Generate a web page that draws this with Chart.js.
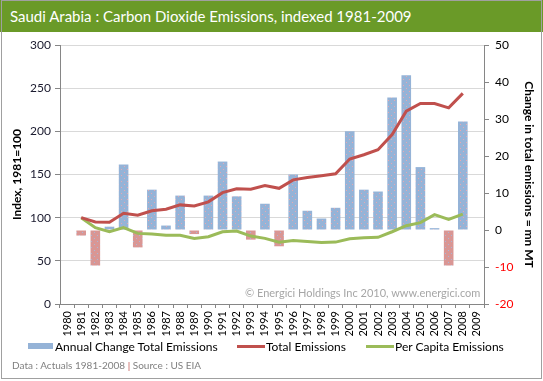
<!DOCTYPE html>
<html lang="en">
<head>
  <meta charset="UTF-8" />
  <title>Saudi Arabia : Carbon Dioxide Emissions</title>
  <script src="https://cdn.jsdelivr.net/npm/chart.js"></script>
  <style>
    html, body { margin: 0; padding: 0; background: #fff; }
    body { width: 543px; height: 381px; position: relative; overflow: hidden; font-family: Lato, sans-serif; }
    #frame { position: absolute; left: 1px; top: 0; width: 539px; height: 377px; border: 1px solid #a0a0a0; }
    #titlebar { position: absolute; left: 0; top: 0; width: 543px; height: 32px; background: #6a9a28; color: #fff; font-size: 15px; line-height: 32px; padding-left: 10px; box-sizing: border-box; }
    #wrap { position: absolute; left: 0; top: 0; width: 543px; height: 381px; }
    #mark { position: absolute; left: 245px; top: 286px; font-size: 11px; color: #a6a6a6; }
    #legend { position: absolute; top: 339px; left: 0; font-size: 12px; color: #000; }
    .item { position: absolute; white-space: nowrap; }
    .sw { position: absolute; }
    #footer { position: absolute; left: 12px; top: 359px; font-size: 10px; color: #808080; }
    #footer span { color: #c0504d; }
  </style>
</head>
<body>
  <div id="wrap"><canvas id="grafico" width="543" height="381"></canvas></div>
  <div id="titlebar">Saudi Arabia : Carbon Dioxide Emissions, indexed 1981-2009</div>
  <div id="mark">© Energici Holdings Inc 2010, www.energici.com</div>
  <div id="legend">
    <div class="sw" style="left:28px;top:4px;width:25px;height:6px;background:#95b3d7"></div>
    <div class="item" style="left:55px;top:0">Annual Change Total Emissions</div>
    <div class="sw" style="left:237px;top:6px;width:28px;height:3px;background:#c0504d"></div>
    <div class="item" style="left:266px;top:0">Total Emissions</div>
    <div class="sw" style="left:366px;top:6px;width:28px;height:3px;background:#9bbb59"></div>
    <div class="item" style="left:395px;top:0">Per Capita Emissions</div>
  </div>
  <div id="footer">Data : Actuals 1981-2008 <span>|</span> Source : US EIA</div>
  <div id="frame"></div>

  <script>
    const anos = ['1980', '1981', '1982', '1983', '1984', '1985', '1986', '1987', '1988', '1989',
      '1990', '1991', '1992', '1993', '1994', '1995', '1996', '1997', '1998', '1999',
      '2000', '2001', '2002', '2003', '2004', '2005', '2006', '2007', '2008', '2009'];

    // mn MT, right axis
    const variacaoAnual = [null, -1.5, -9.6, 0.9, 17.7, -4.7, 10.9, 1.2, 9.3, -1.1,
      9.3, 18.5, 9.1, -2.6, 7.1, -4.4, 15.0, 5.2, 3.1, 6.0,
      26.7, 10.9, 10.4, 35.8, 41.8, 17.0, 0.5, -9.6, 29.3, null];

    // index 1981=100, left axis
    const emissoesTotais = [null, 100, 95, 94.6, 105, 102.8, 108, 109.8, 114.8, 113.6,
      118.3, 129, 133.4, 133, 137.2, 134, 143.8, 146.5, 148.5, 150.8,
      167.9, 172.9, 178.7, 196.2, 223.3, 232.2, 232.2, 227.2, 244, null];

    const perCapita = [null, 100, 88.4, 83.7, 88.4, 81.8, 81, 79.5, 79.5, 76,
      78, 83.7, 84.5, 78.7, 76, 71.5, 73.6, 72.4, 71.2, 71.7,
      75.6, 76.7, 77.2, 83.7, 90.7, 94.2, 103.5, 98.1, 104, null];

    const ticksEsq = [0, 50, 100, 150, 200, 250, 300];
    const ticksDir = [-20, -10, 0, 10, 20, 30, 40, 50];

    // dotted fill like the original
    function padrao(fundo, ponto) {
      const c = document.createElement('canvas');
      c.width = 6; c.height = 6;
      const g = c.getContext('2d');
      g.fillStyle = fundo;
      g.fillRect(0, 0, 6, 6);
      g.fillStyle = ponto;
      g.fillRect(1, 1, 1, 1);
      g.fillRect(4, 4, 1, 1);
      return g.createPattern(c, 'repeat');
    }
    const azul = padrao('#95b3d7', '#e8a8b0');
    const rosa = padrao('#d99694', '#a8b8d8');

    const cinza = '#868686';
    const fonte = 'Lato, sans-serif';

    new Chart(document.getElementById('grafico'), {
      data: {
        labels: anos,
        datasets: [
          {
            type: 'line',
            label: 'Total Emissions',
            data: emissoesTotais,
            yAxisID: 'y',
            borderColor: '#c0504d',
            borderWidth: 3,
            pointRadius: 0,
            tension: 0,
            order: 1
          },
          {
            type: 'line',
            label: 'Per Capita Emissions',
            data: perCapita,
            yAxisID: 'y',
            borderColor: '#9bbb59',
            borderWidth: 3,
            pointRadius: 0,
            tension: 0,
            order: 2
          },
          {
            type: 'bar',
            label: 'Annual Change Total Emissions',
            data: variacaoAnual,
            yAxisID: 'y2',
            backgroundColor: ctx => (ctx.raw < 0 ? rosa : azul),
            categoryPercentage: 1,
            barPercentage: 0.68,
            order: 3
          }
        ]
      },
      options: {
        responsive: false,
        animation: false,
        layout: { padding: { top: 45, bottom: 41, left: 0, right: 0 } },
        plugins: { legend: { display: false }, tooltip: { enabled: false } },
        scales: {
          x: {
            offset: true,
            grid: { display: true, drawOnChartArea: false, offset: true, tickLength: 4, color: cinza },
            border: { color: cinza },
            ticks: { autoSkip: false, minRotation: 90, maxRotation: 90, color: '#000', font: { family: fonte, size: 11 } },
            afterFit: s => { s.height = 36; }
          },
          y: {
            position: 'left',
            min: 0,
            max: 300,
            afterBuildTicks: s => { s.ticks = ticksEsq.map(v => ({ value: v })); },
            grid: { color: '#d9d9d9', tickColor: cinza, tickLength: 5 },
            border: { color: cinza },
            ticks: { color: '#1a1a2e', font: { family: fonte, size: 12 }, padding: 4 },
            title: { display: true, text: 'Index, 1981=100', color: '#000', font: { family: fonte, size: 12, weight: 'bold' }, padding: { top: 10, bottom: 0 } },
            afterFit: s => { s.width = 60; }
          },
          y2: {
            position: 'right',
            min: -20,
            max: 50,
            afterBuildTicks: s => { s.ticks = ticksDir.map(v => ({ value: v })); },
            grid: { drawOnChartArea: false, color: cinza, tickLength: 5 },
            border: { color: cinza },
            ticks: {
              color: ctx => (ctx.tick.value < 0 ? '#ff0000' : '#000'),
              font: { family: fonte, size: 12 },
              padding: 6
            },
            title: { display: true, text: 'Change in total emissions = mn MT', color: '#000', font: { family: fonte, size: 12, weight: 'bold' }, padding: { top: 7, bottom: 0 } },
            afterFit: s => { s.width = 59; }
          }
        }
      }
    });
  </script>
</body>
</html>
